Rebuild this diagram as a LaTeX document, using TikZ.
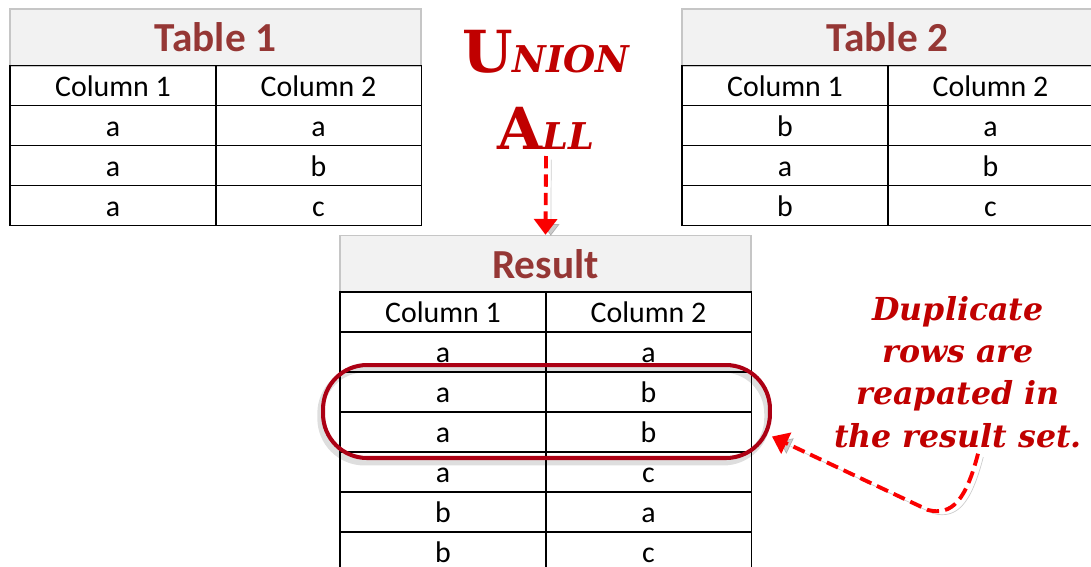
\documentclass[tikz,border=0pt]{standalone}
\usepackage{fontspec}
\setmainfont{Carlito}
\newfontfamily\unionfont{DejaVu Serif}
\usetikzlibrary{positioning,arrows.meta}
\definecolor{titlered}{RGB}{149,55,53}
\definecolor{unionred}{RGB}{192,0,0}
\definecolor{arrowred}{RGB}{250,0,0}
\definecolor{ringred}{RGB}{172,0,20}
\definecolor{headgray}{RGB}{242,242,242}

\begin{document}
\begin{tikzpicture}[x=0.02cm,y=-0.02cm,
	cell/.style={draw,line width=0.8pt,minimum width=4.12cm,minimum height=0.8cm,inner sep=0pt,
		text height=12pt,text depth=0pt,font=\fontsize{17}{17}\selectfont},
	head/.style={draw=gray!45,fill=headgray,line width=0.8pt,minimum width=8.22cm,minimum height=1.14cm,
		inner sep=0pt,text=titlered,font=\fontsize{23.5}{24}\selectfont\bfseries},
	ring/.style={draw=ringred,line width=2.3pt,rounded corners=0.88cm,minimum width=8.94cm,minimum height=1.86cm,
		preaction={draw=black,opacity=0.13,line width=3.5pt,transform canvas={xshift=-1.5pt,yshift=-2.5pt}}},
	redarrow/.style={arrowred,line width=2.2pt,dash pattern=on 7pt off 3.5pt,-{Triangle[length=9pt,width=13pt]},
		preaction={draw=black,opacity=0.2,transform canvas={xshift=3pt,yshift=-2pt}}}
	]
	\useasboundingbox (0,0) rectangle (1091,566);
	\clip (0,0) rectangle (1091,566);

	% Table 1
	\node[head] (t1) at (215.5,37.5) {Table 1};
	\foreach \c/\x in {1/113,2/318.5}
		\node[cell] (t1-0-\c) at (\x,85.5) {Column \c};
	\foreach \a/\b [count=\r] in {a/a,a/b,a/c}{
		\node[cell] (t1-\r-1) at (113,85.5+40*\r) {\a};
		\node[cell] (t1-\r-2) at (318.5,85.5+40*\r) {\b};
	}

	% Table 2
	\node[head] (t2) at (887.5,37.5) {Table 2};
	\foreach \c/\x in {1/785,2/990.5}
		\node[cell] (t2-0-\c) at (\x,85.5) {Column \c};
	\foreach \a/\b [count=\r] in {b/a,a/b,b/c}{
		\node[cell] (t2-\r-1) at (785,85.5+40*\r) {\a};
		\node[cell] (t2-\r-2) at (990.5,85.5+40*\r) {\b};
	}

	% Result
	\node[head] (res) at (545.5,264) {Result};
	\foreach \c/\x in {1/443,2/648.5}
		\node[cell] (res-0-\c) at (\x,312) {Column \c};
	\foreach \a/\b [count=\r] in {a/a,a/b,a/b,a/c,b/a,b/c}{
		\node[cell] (res-\r-1) at (443,312+40*\r) {\a};
		\node[cell] (res-\r-2) at (648.5,312+40*\r) {\b};
	}

	\node[text=unionred,align=center,font=\unionfont\bfseries\fontsize{33}{44}\selectfont] (union) at (546,90)
		{U{\fontsize{21}{44}\selectfont\itshape NION}\\A{\fontsize{21}{44}\selectfont\itshape LL}};

	\node[ring] (dup) at (546.5,411.5) {};
	\node[text=unionred,align=center,font=\unionfont\bfseries\itshape\fontsize{18}{24}\selectfont] (note) at (958,372)
		{Duplicate\\rows are\\reapated in\\the result set.};

	\draw[redarrow] (union.south) -- (res.north);
	\draw[redarrow] ([xshift=0.4cm]note.south) .. controls (966,500) and (952,516) .. (928,510)
		-- ([yshift=-0.5cm]dup.east);
\end{tikzpicture}
\end{document}
